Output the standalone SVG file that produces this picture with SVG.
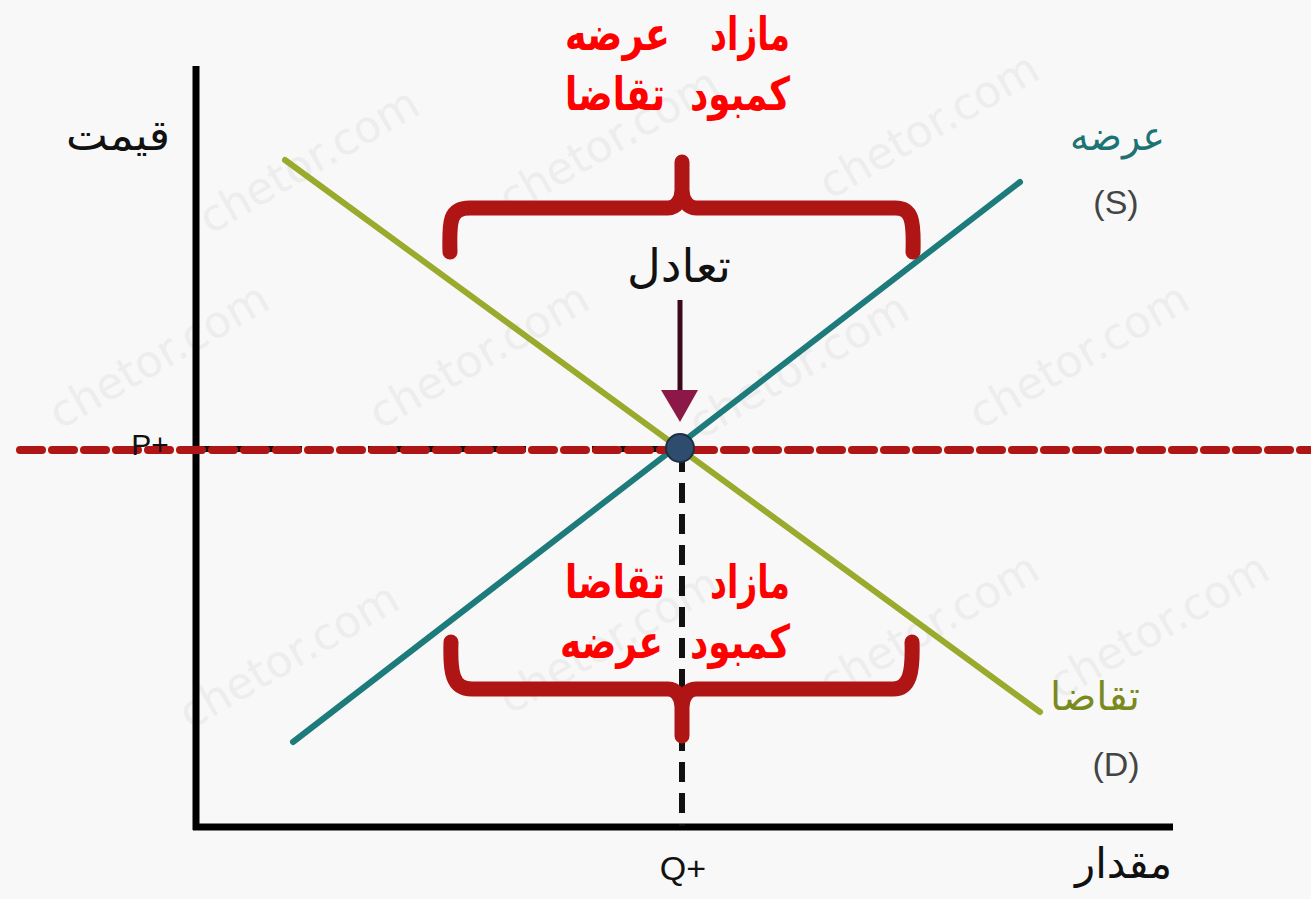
<svg xmlns="http://www.w3.org/2000/svg" width="1311" height="899" viewBox="0 0 1311 899">
<style>
.wm{font-family:"DejaVu Sans",sans-serif;font-size:44px;fill:#ededed}
.lbl{font-family:"DejaVu Sans","Noto Sans",sans-serif;fill:#111}
.red{font-family:"DejaVu Sans",sans-serif;font-size:46px;font-weight:bold;fill:#ff0000}
.brace{fill:none;stroke:#b01515;stroke-width:15;stroke-linecap:round;stroke-linejoin:round}
</style>
<rect width="1311" height="899" fill="#f8f8f8"/>
<g id="watermarks">
<text class="wm" transform="translate(210,235) rotate(-30)">chetor.com</text>
<text class="wm" transform="translate(510,215) rotate(-30)">chetor.com</text>
<text class="wm" transform="translate(830,200) rotate(-30)">chetor.com</text>
<text class="wm" transform="translate(60,430) rotate(-30)">chetor.com</text>
<text class="wm" transform="translate(380,430) rotate(-30)">chetor.com</text>
<text class="wm" transform="translate(700,440) rotate(-30)">chetor.com</text>
<text class="wm" transform="translate(980,430) rotate(-30)">chetor.com</text>
<text class="wm" transform="translate(190,730) rotate(-30)">chetor.com</text>
<text class="wm" transform="translate(510,715) rotate(-30)">chetor.com</text>
<text class="wm" transform="translate(830,700) rotate(-30)">chetor.com</text>
<text class="wm" transform="translate(1060,700) rotate(-30)">chetor.com</text>
</g>
<g id="connectors">
<line x1="196" y1="66" x2="196" y2="830" stroke="#000" stroke-width="7"/>
<line x1="193" y1="827" x2="1173" y2="827" stroke="#000" stroke-width="7"/>
<line x1="200" y1="449" x2="680" y2="449" stroke="#111" stroke-width="6" stroke-dasharray="18 10"/>
<line x1="682" y1="452" x2="682" y2="826" stroke="#111" stroke-width="6" stroke-dasharray="20 11"/>
<line x1="285" y1="160" x2="1040" y2="712" stroke="#9aaa2c" stroke-width="6" stroke-linecap="round"/>
<line x1="293" y1="742" x2="1020" y2="182" stroke="#1d7b7b" stroke-width="6" stroke-linecap="round"/>
<line x1="20" y1="450" x2="1311" y2="450" stroke="#b01515" stroke-width="8" stroke-linecap="round" stroke-dasharray="22 10"/>
<line x1="680" y1="300" x2="680" y2="392" stroke="#3a0a1a" stroke-width="5"/>
<polygon points="661,390 698,390 680,422" fill="#8c1848"/>
</g>
<g id="equilibrium">
<circle cx="680" cy="448" r="14" fill="#2e4d6e" stroke="#1c2f44" stroke-width="2"/>
</g>
<g id="brace-top">
<path class="brace" d="M450,252 C449,220 450,208 470,208 L668,208 C676,208 682,200 682,190 L682,162 M682,190 C682,200 688,208 696,208 L895,208 C912,208 914,220 913,252"/>
</g>
<g id="brace-bottom">
<path class="brace" d="M451,642 C450,672 452,689 472,689 L668,689 C676,689 682,697 682,707 L682,736 M682,707 C682,697 688,689 696,689 L893,689 C910,689 913,672 912,642"/>
</g>
<g id="labels">
<text class="lbl" x="66" y="150" font-size="42" textLength="104" lengthAdjust="spacingAndGlyphs">قیمت</text>
<text class="lbl" x="1075" y="878" font-size="42" textLength="97" lengthAdjust="spacingAndGlyphs">مقدار</text>
<text class="lbl" x="627" y="282" font-size="46" textLength="104" lengthAdjust="spacingAndGlyphs">تعادل</text>
<text x="1070" y="150" font-family="DejaVu Sans,sans-serif" font-size="40" fill="#1d7373" textLength="95" lengthAdjust="spacingAndGlyphs">عرضه</text>
<text x="1116" y="214" text-anchor="middle" font-family="Liberation Sans,sans-serif" font-size="34" fill="#444">(S)</text>
<text x="1050" y="710" font-family="DejaVu Sans,sans-serif" font-size="40" fill="#7a8a1e" textLength="90" lengthAdjust="spacingAndGlyphs">تقاضا</text>
<text x="1116" y="776" text-anchor="middle" font-family="Liberation Sans,sans-serif" font-size="34" fill="#444">(D)</text>
<text x="150" y="455" text-anchor="middle" font-family="Liberation Sans,sans-serif" font-size="30" fill="#111">P+</text>
<text x="683" y="880" text-anchor="middle" font-family="Liberation Sans,sans-serif" font-size="34" fill="#111">Q+</text>
</g>
<g id="red-labels">
<text class="red" x="710" y="50" textLength="80" lengthAdjust="spacingAndGlyphs">مازاد</text>
<text class="red" x="565" y="50" textLength="105" lengthAdjust="spacingAndGlyphs">عرضه</text>
<text class="red" x="690" y="110" textLength="100" lengthAdjust="spacingAndGlyphs">کمبود</text>
<text class="red" x="565" y="110" textLength="100" lengthAdjust="spacingAndGlyphs">تقاضا</text>
<text class="red" x="710" y="598" textLength="80" lengthAdjust="spacingAndGlyphs">مازاد</text>
<text class="red" x="565" y="598" textLength="100" lengthAdjust="spacingAndGlyphs">تقاضا</text>
<text class="red" x="690" y="658" textLength="100" lengthAdjust="spacingAndGlyphs">کمبود</text>
<text class="red" x="560" y="658" textLength="103" lengthAdjust="spacingAndGlyphs">عرضه</text>
</g>
</svg>
